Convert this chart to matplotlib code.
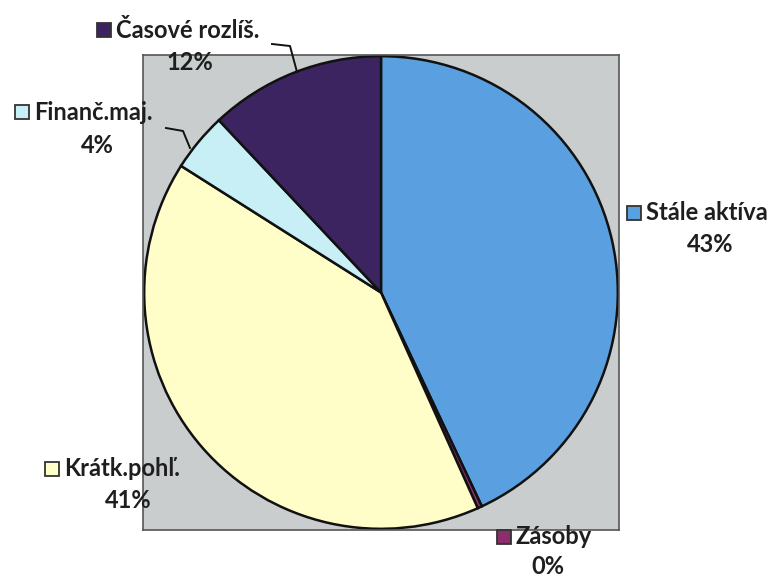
import matplotlib
matplotlib.use("Agg")
import matplotlib.pyplot as plt
from matplotlib.lines import Line2D
from matplotlib.patches import Rectangle

categories = ["Stále aktíva", "Zásoby", "Krátk.pohľ.", "Finanč.maj.", "Časové rozlíš."]
values = [43.0, 0.3, 40.7, 4.0, 12.0]
colors = ["#5A9FE0", "#8C2D6E", "#FFFDC8", "#C8EEF6", "#3C2460"]

W, H = 775, 579
fig = plt.figure(figsize=(W / 100, H / 100), dpi=100)
fig.patch.set_facecolor("white")

# pie plot area (gray square)
l, t, r, b = 143, 55, 619, 530
ax = fig.add_axes([l / W, 1 - b / H, (r - l) / W, (b - t) / H])
ax.pie(values, colors=colors, startangle=90, counterclock=False, radius=1.0,
       wedgeprops=dict(edgecolor="#111111", linewidth=1.8), frame=True)
ax.set_frame_on(True)
ax.set_facecolor("#C9CDCD")
for s in ax.spines.values():
    s.set_visible(True)
    s.set_edgecolor("#555555")
    s.set_linewidth(1.2)
ax.set_xticks([])
ax.set_yticks([])
ax.set_xlim(-1.005, 1.005)
ax.set_ylim(-1.005, 1.005)
ax.set_aspect("auto")

font = ["Lato", "DejaVu Sans"]
fs = 17

# label positions in pixel coords: (square_x, name_y, pct_x, pct_y)
label_pos = {
    "Časové rozlíš.": (97, 30, 190, 63),
    "Finanč.maj.": (15, 112, 97, 145),
    "Stále aktíva": (627, 213, 710, 245),
    "Krátk.pohľ.": (45, 469, 128, 500),
    "Zásoby": (497, 537, 548, 566),
}

total = sum(values)
for name, val, col in zip(categories, values, colors):
    sx, ny, px, py = label_pos[name]
    sq = 14
    fig.patches.append(Rectangle((sx / W, 1 - (ny + sq / 2) / H), sq / W, sq / H,
                                 transform=fig.transFigure, facecolor=col,
                                 edgecolor="#333333", linewidth=1.3))
    fig.text((sx + sq + 5) / W, 1 - ny / H, name, fontsize=fs, fontweight="bold",
             family=font, color="#1E1E1E", ha="left", va="center")
    fig.text(px / W, 1 - py / H, f"{round(val / total * 100):.0f}%", fontsize=fs,
             fontweight="bold", family=font, color="#1E1E1E", ha="center", va="center")

# leader lines
def leader(pts):
    xs = [p[0] / W for p in pts]
    ys = [1 - p[1] / H for p in pts]
    fig.lines.append(Line2D(xs, ys, transform=fig.transFigure, color="#111111", linewidth=1.4))

leader([(272, 44), (290, 46), (297, 72)])
leader([(166, 128), (183, 131), (190, 148)])

fig.savefig("out.png", dpi=100, facecolor="white")
